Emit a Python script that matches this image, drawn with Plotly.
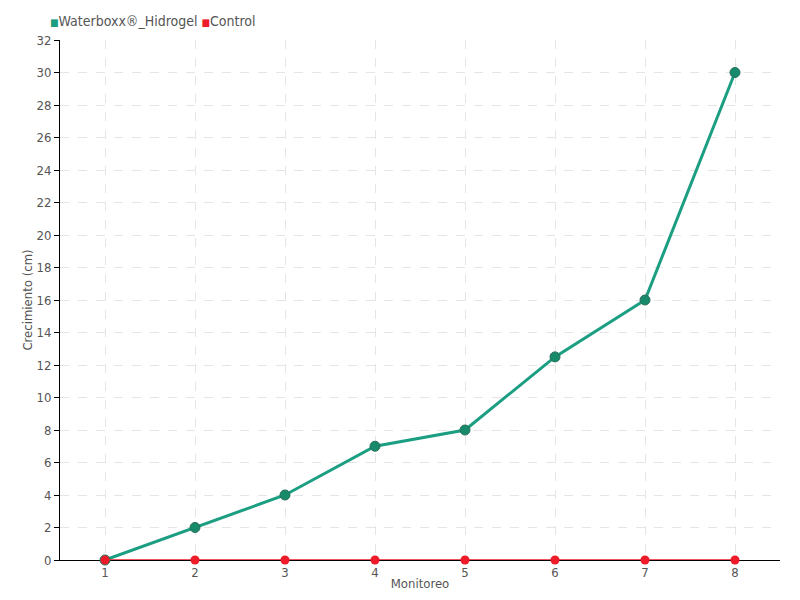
import plotly.graph_objects as go

monitoreo = [1, 2, 3, 4, 5, 6, 7, 8]
waterboxx = [0, 2, 4, 7, 8, 12.5, 16, 30]
control = [0, 0, 0, 0, 0, 0, 0, 0]
y_ticks = list(range(0, 33, 2))
series_names = ["Waterboxx®_Hidrogel", "Control"]

GREEN = "#1b9e82"
GREEN_DARK = "#188a6c"
RED = "#ee1c2b"
FONT = "DejaVu Sans Condensed, Liberation Sans Narrow, Roboto, sans-serif"
W, H = 792, 592

fig = go.Figure()
fig.add_trace(go.Scatter(
    x=monitoreo, y=waterboxx, mode="lines+markers", name=series_names[0],
    line=dict(color=GREEN, width=3),
    marker=dict(color=GREEN_DARK, size=10, line=dict(color="#2a6e58", width=1)),
    showlegend=False, cliponaxis=False,
))
fig.add_trace(go.Scatter(
    x=monitoreo, y=control, mode="lines+markers", name=series_names[1],
    line=dict(color=RED, width=1.5),
    marker=dict(color=RED, size=9),
    showlegend=False, cliponaxis=False,
))

legend_text = (f"<span style='color:{GREEN};font-size:10px'>■</span>{series_names[0]} "
               f"<span style='color:{RED};font-size:10px'>■</span>{series_names[1]}")
fig.add_annotation(text=legend_text, xref="paper", yref="paper", x=-12 / 720, y=1 + 19 / 520,
                   xanchor="left", yanchor="middle", showarrow=False,
                   font=dict(family=FONT, size=14, color="#555555"))

fig.update_layout(
    width=W, height=H,
    margin=dict(l=52, r=20, t=32, b=40, autoexpand=False),
    plot_bgcolor="white", paper_bgcolor="white",
    font=dict(family=FONT, size=13, color="#555555"),
    showlegend=False,
    xaxis=dict(
        title=dict(text="Monitoreo", standoff=0, font=dict(size=13)),
        range=[0.5, 8.5], tickvals=monitoreo, ticktext=[str(m) for m in monitoreo],
        showgrid=True, gridcolor="#e5e5e5", griddash="dash", gridwidth=1,
        showline=True, linecolor="black", linewidth=1, zeroline=False,
        ticks="", ticklen=0, tickfont=dict(size=13), layer="below traces",
    ),
    yaxis=dict(
        title=dict(text="Crecimiento (cm)", standoff=0, font=dict(size=13)),
        range=[0, 32], tickvals=y_ticks,
        showgrid=True, gridcolor="#e5e5e5", griddash="dash", gridwidth=1,
        showline=True, linecolor="black", linewidth=1, zeroline=False,
        ticks="outside", ticklen=5, tickcolor="black", tickfont=dict(size=13),
        layer="below traces",
    ),
)
fig.write_html("out.html")
